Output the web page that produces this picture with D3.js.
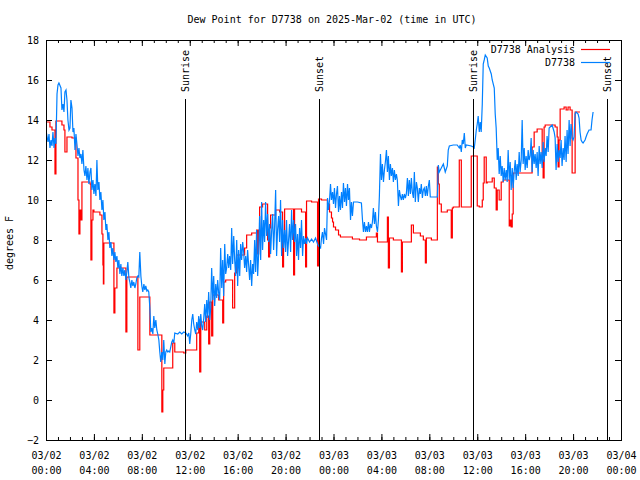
<!DOCTYPE html>
<html><head><meta charset="utf-8">
<script src="https://cdn.jsdelivr.net/npm/d3@7"></script>
<style>
body{margin:0;background:#fff}
text{font-family:"DejaVu Sans Mono","Liberation Mono",monospace;font-size:10px;fill:#000}
</style>
</head><body><svg id="c" width="640" height="480"></svg>
<script>
const titleText = "Dew Point for D7738 on 2025-Mar-02 (time in UTC)";
const yLabel = "degrees F";
const yTicks = [-2,0,2,4,6,8,10,12,14,16,18];
const xTickHours = [0,4,8,12,16,20,24,28,32,36,40,44,48];
const seriesNames = ["D7738 Analysis","D7738"];
const seriesColors = ["#ff0000","#0080ff"];
const sunEvents = [["Sunrise",11.6],["Sunset",22.8],["Sunrise",35.63],["Sunset",46.83]];

// [hours since 2025-03-02 00:00 UTC, dew point F]
const analysis = [[0,13.9],[0.33,13.65],[0.5,13.5],[0.75,11.3],[0.83,13.95],[1.33,13.75],[1.5,13.5],[1.58,12.4],[1.75,13.15],[2.17,13.1],[2.5,12.1],[2.67,10.0],[2.75,8.3],[2.83,9.5],[2.92,9.0],[3.0,10.9],[3.67,10.8],[3.75,7.0],[3.83,9.0],[3.92,9.5],[4.0,9.4],[4.5,9.25],[4.67,8.3],[4.75,6.75],[4.79,5.8],[4.83,7.85],[5.67,4.35],[5.75,5.6],[5.92,6.6],[6.67,3.4],[6.75,6.15],[7.67,2.5],[7.83,5.15],[8.67,3.25],[9.67,-0.6],[9.75,0.5],[9.83,1.6],[10.58,2.85],[10.75,2.4],[11.5,2.35],[11.67,2.5],[12.58,3.35],[12.75,4.0],[12.83,1.4],[12.92,3.9],[13.25,3.5],[13.42,4.2],[13.58,2.8],[13.67,4.9],[13.83,3.2],[13.92,5.25],[14.42,5.0],[14.75,3.85],[14.83,5.9],[15.0,6.0],[15.58,4.6],[15.75,6.35],[15.92,7.25],[16.58,7.6],[16.75,8.25],[17.17,8.35],[17.58,8.5],[17.67,7.3],[17.75,8.5],[17.83,9.65],[18.08,9.8],[18.5,8.0],[18.58,7.15],[18.67,8.6],[18.75,9.25],[19.17,9.5],[19.5,9.4],[19.75,6.65],[19.83,8.0],[19.92,9.55],[20.67,6.25],[20.75,9.55],[21.33,9.4],[21.67,6.65],[21.75,9.95],[22.17,9.9],[22.67,6.7],[22.75,10.05],[23.0,10.0],[23.5,9.8],[23.67,9.4],[23.83,9.1],[23.92,8.9],[24.0,8.65],[24.17,8.5],[24.42,8.25],[24.58,8.15],[25.58,8.05],[26.17,8.0],[26.75,8.15],[27.58,8.35],[27.67,7.9],[28.5,9.15],[28.58,6.6],[28.67,8.1],[29.0,8.0],[29.67,6.4],[29.75,7.9],[30.5,8.75],[30.67,8.35],[31.25,8.2],[31.5,8.0],[31.67,6.85],[31.75,8.1],[32.17,8.0],[32.67,11.65],[32.75,10.8],[32.83,9.8],[33.0,9.4],[33.5,9.5],[33.83,8.1],[33.92,9.6],[34.0,9.65],[34.5,12.0],[34.67,9.65],[35.5,12.2],[36.0,9.7],[36.17,9.65],[36.42,10.0],[36.5,10.85],[36.58,12.15],[36.75,10.85],[36.83,10.9],[37.25,11.1],[37.42,10.6],[37.58,9.5],[37.67,10.5],[37.83,10.0],[38.0,10.9],[38.17,11.0],[38.67,8.7],[38.75,9.0],[38.83,8.65],[38.92,9.3],[39.0,11.35],[40.58,12.65],[40.75,13.4],[41.0,13.55],[41.42,12.0],[41.5,11.1],[41.58,13.65],[41.67,13.75],[42.5,13.65],[42.67,13.15],[42.75,11.65],[42.83,13.0],[42.92,14.55],[43.25,14.65],[43.42,14.5],[43.58,14.65],[43.75,14.5],[43.92,11.35],[44.17,14.4],[44.58,14.4]];

const observed = [[0,13.5],[0.08,13.2],[0.17,12.9],[0.25,13.3],[0.33,12.6],[0.42,13.0],[0.5,12.7],[0.58,13.4],[0.67,12.6],[0.75,13.1],[0.83,12.8],[0.92,15.3],[1.0,15.75],[1.08,15.85],[1.25,15.6],[1.33,14.5],[1.42,14.8],[1.5,14.4],[1.58,15.4],[1.67,15.5],[1.75,15.0],[1.83,14.0],[1.92,13.5],[2.0,13.6],[2.08,15.0],[2.17,14.6],[2.25,13.4],[2.33,13.6],[2.42,12.5],[2.5,13.3],[2.58,12.8],[2.67,12.2],[2.75,12.6],[2.83,12.1],[2.92,12.3],[3.0,11.8],[3.08,12.5],[3.17,11.5],[3.25,11.2],[3.33,11.7],[3.42,11.0],[3.5,11.6],[3.58,10.8],[3.67,11.4],[3.75,11.6],[3.83,10.5],[3.92,11.0],[4.0,10.3],[4.08,10.8],[4.17,10.2],[4.25,12.0],[4.33,10.5],[4.42,10.9],[4.5,10.0],[4.58,10.4],[4.67,9.5],[4.75,10.0],[4.83,9.0],[4.92,9.4],[5.0,8.5],[5.08,8.8],[5.17,8.0],[5.25,8.4],[5.33,7.6],[5.42,7.9],[5.5,7.2],[5.58,7.6],[5.67,7.0],[5.75,7.4],[5.83,6.9],[5.92,7.2],[6.0,6.6],[6.08,7.0],[6.17,6.3],[6.25,6.8],[6.33,6.2],[6.42,6.6],[6.5,6.2],[6.58,6.5],[6.67,6.0],[6.75,6.4],[6.83,6.9],[6.92,6.1],[7.0,5.9],[7.08,5.6],[7.17,6.0],[7.25,5.7],[7.33,5.9],[7.42,5.6],[7.5,5.8],[7.58,6.1],[7.67,6.2],[7.75,6.15],[7.83,7.4],[7.92,6.2],[8.0,5.7],[8.08,5.4],[8.17,5.8],[8.25,5.5],[8.33,5.7],[8.42,5.45],[8.5,5.5],[8.58,5.4],[8.67,4.6],[8.75,3.4],[8.83,3.6],[8.92,3.3],[9.0,4.2],[9.08,3.6],[9.17,4.0],[9.25,3.5],[9.33,3.3],[9.42,3.0],[9.5,2.4],[9.58,1.9],[9.67,2.4],[9.75,2.0],[9.83,3.0],[9.92,1.8],[10.0,2.4],[10.08,2.5],[10.17,2.4],[10.25,2.45],[10.33,2.4],[10.5,2.9],[10.58,3.0],[10.67,2.85],[10.75,3.35],[11.0,3.3],[11.17,3.4],[11.33,3.3],[11.5,3.4],[11.67,3.35],[11.83,3.2],[11.92,3.35],[12.0,2.8],[12.08,3.3],[12.17,4.0],[12.25,4.3],[12.33,3.8],[12.42,3.5],[12.5,3.3],[12.58,3.9],[12.67,3.5],[12.75,4.2],[12.83,3.6],[12.92,4.3],[13.0,3.7],[13.08,3.5],[13.17,4.1],[13.25,4.8],[13.33,3.9],[13.42,5.0],[13.5,4.1],[13.58,5.4],[13.67,4.0],[13.75,4.6],[13.83,6.6],[13.92,5.0],[14.0,6.2],[14.08,4.7],[14.17,5.8],[14.25,5.1],[14.33,6.0],[14.42,5.3],[14.5,5.0],[14.58,7.6],[14.67,5.6],[14.75,7.0],[14.83,5.2],[14.92,7.8],[15.0,6.3],[15.08,6.6],[15.17,7.3],[15.25,6.6],[15.33,7.2],[15.42,6.5],[15.5,8.6],[15.58,6.8],[15.67,8.2],[15.75,7.0],[15.83,6.2],[15.92,8.0],[16.0,5.7],[16.08,7.5],[16.17,6.2],[16.25,7.8],[16.33,7.0],[16.42,7.9],[16.5,7.4],[16.58,6.6],[16.67,7.2],[16.75,6.4],[16.83,7.5],[16.92,6.7],[17.0,6.0],[17.08,7.0],[17.17,5.7],[17.25,6.8],[17.33,6.3],[17.42,8.0],[17.5,6.4],[17.58,8.5],[17.67,6.2],[17.75,7.3],[17.83,9.2],[17.92,7.0],[18.0,9.9],[18.08,7.5],[18.17,9.0],[18.25,7.9],[18.33,9.9],[18.42,8.2],[18.5,9.3],[18.58,7.9],[18.67,8.8],[18.75,7.3],[18.83,8.4],[18.92,9.3],[19.0,7.5],[19.08,8.6],[19.17,10.5],[19.25,7.2],[19.33,8.5],[19.42,9.2],[19.5,7.9],[19.58,10.0],[19.67,7.2],[19.75,9.0],[19.83,7.6],[19.92,8.5],[20.0,7.4],[20.08,9.0],[20.17,7.2],[20.25,8.0],[20.33,8.8],[20.42,7.4],[20.5,9.5],[20.58,8.0],[20.67,9.0],[20.75,7.9],[20.83,8.8],[20.92,7.2],[21.0,8.3],[21.08,7.0],[21.17,8.6],[21.25,7.6],[21.33,9.0],[21.42,7.2],[21.5,8.2],[21.58,7.8],[21.67,8.1],[21.75,7.8],[21.83,8.1],[22.0,7.9],[22.17,8.05],[22.33,7.9],[22.5,8.1],[22.67,7.8],[22.75,7.7],[22.92,7.6],[23.0,8.1],[23.08,8.4],[23.17,7.8],[23.25,8.6],[23.42,8.0],[23.5,10.1],[23.58,9.5],[23.67,10.0],[23.75,10.8],[23.83,10.0],[23.92,10.4],[24.0,9.8],[24.08,10.6],[24.17,9.6],[24.25,10.3],[24.33,10.7],[24.42,9.4],[24.5,10.2],[24.58,9.5],[24.67,10.4],[24.75,9.6],[24.83,10.85],[24.92,9.9],[25.0,10.6],[25.08,9.7],[25.17,10.8],[25.25,10.0],[25.33,10.6],[25.42,9.0],[25.5,9.9],[25.58,9.2],[25.67,9.9],[26.0,9.9],[26.33,9.85],[26.42,9.0],[26.5,8.4],[26.58,8.9],[26.67,8.4],[26.75,8.7],[26.83,8.4],[26.92,8.9],[27.0,8.4],[27.08,8.8],[27.17,8.6],[27.25,8.9],[27.33,9.6],[27.42,8.8],[27.5,9.4],[27.58,8.7],[27.67,8.4],[27.75,9.0],[27.83,10.2],[27.92,12.3],[28.0,11.0],[28.08,11.8],[28.17,10.9],[28.25,11.5],[28.33,11.9],[28.42,12.5],[28.5,11.4],[28.58,12.2],[28.67,11.0],[28.75,11.8],[28.83,11.2],[28.92,11.6],[29.0,10.9],[29.08,11.5],[29.17,11.0],[29.25,11.3],[29.33,11.0],[29.42,9.7],[29.5,10.5],[29.58,10.2],[29.67,10.0],[29.75,10.3],[29.83,10.0],[29.92,10.3],[30.0,10.1],[30.08,10.3],[30.17,11.1],[30.25,10.2],[30.33,11.0],[30.42,10.3],[30.5,11.1],[30.58,10.4],[30.67,10.1],[30.75,11.4],[30.83,9.9],[30.92,10.9],[31.0,10.6],[31.08,9.9],[31.17,10.6],[31.25,10.3],[31.33,10.8],[31.42,10.1],[31.5,10.5],[31.58,10.6],[31.67,10.2],[31.75,10.7],[31.83,10.2],[31.92,10.7],[32.0,11.0],[32.08,10.15],[32.67,10.15],[32.75,11.75],[32.83,11.4],[33.0,11.6],[33.17,11.8],[33.33,11.4],[33.5,11.7],[33.58,12.5],[33.67,12.7],[34.0,12.75],[34.33,12.75],[34.5,12.6],[34.58,12.75],[34.67,12.4],[34.75,13.0],[34.83,12.8],[34.92,13.35],[35.0,12.6],[35.08,12.75],[35.5,12.7],[35.67,12.65],[35.75,12.6],[35.83,13.0],[35.92,13.5],[36.0,13.8],[36.08,14.2],[36.17,13.4],[36.25,13.9],[36.33,13.4],[36.42,14.8],[36.5,16.8],[36.58,17.0],[36.67,17.25],[36.83,17.1],[36.92,16.7],[37.0,16.6],[37.17,16.3],[37.25,16.0],[37.42,15.6],[37.5,14.3],[37.58,13.6],[37.67,12.0],[37.75,12.6],[37.83,11.3],[37.92,12.2],[38.0,11.2],[38.08,11.7],[38.17,10.9],[38.25,11.6],[38.33,11.0],[38.42,11.5],[38.5,10.9],[38.58,12.5],[38.67,11.0],[38.75,11.9],[38.83,10.5],[38.92,11.6],[39.0,10.6],[39.08,11.4],[39.17,12.0],[39.25,11.0],[39.33,11.8],[39.42,11.2],[39.5,12.4],[39.58,11.4],[39.67,12.0],[39.75,14.0],[39.83,11.8],[39.92,12.6],[40.0,11.5],[40.08,12.2],[40.17,11.6],[40.25,12.5],[40.33,12.0],[40.42,12.2],[40.5,13.1],[40.58,11.4],[40.67,12.5],[40.75,11.8],[40.83,12.3],[40.92,11.6],[41.0,12.4],[41.08,11.2],[41.17,12.7],[41.25,11.8],[41.33,12.4],[41.42,11.6],[41.5,12.9],[41.58,11.9],[41.67,12.6],[41.75,12.2],[41.83,13.2],[41.92,12.4],[42.0,13.6],[42.25,13.75],[42.42,13.4],[42.5,13.1],[42.58,11.5],[42.67,12.8],[42.75,11.9],[42.83,12.5],[42.92,12.1],[43.0,13.0],[43.08,11.7],[43.17,12.6],[43.25,12.0],[43.33,13.2],[43.42,11.9],[43.5,13.5],[43.58,12.3],[43.67,14.0],[43.75,12.7],[43.83,13.8],[43.92,13.1],[44.0,13.0],[44.08,13.15],[44.17,14.3],[44.25,14.4],[44.42,14.3],[44.5,14.1],[44.58,13.4],[44.67,13.0],[44.75,12.9],[44.83,12.85],[45.0,13.0],[45.08,13.15],[45.17,13.3],[45.33,13.5],[45.5,13.5],[45.58,14.0],[45.67,14.4]];

const M = {l:46, r:621, t:40, b:440};
const t0 = Date.UTC(2025,2,2);
const toDate = h => new Date(t0 + h*3600e3);
const x = d3.scaleUtc().domain([toDate(0), toDate(48)]).range([M.l, M.r]);
const y = d3.scaleLinear().domain([-2,18]).range([M.b, M.t]);
const svg = d3.select("#c");

// title
svg.append("text").attr("x",332).attr("y",23).attr("text-anchor","middle").text(titleText);
// y label
svg.append("text").attr("transform","translate(12.5,243) rotate(-90)").attr("text-anchor","middle").text(yLabel);

// data lines (clipped to plot)
svg.append("clipPath").attr("id","clip").append("rect").attr("x",M.l).attr("y",M.t).attr("width",M.r-M.l).attr("height",M.b-M.t);
const gData = svg.append("g").attr("clip-path","url(#clip)");
const lineStep = d3.line().x(d=>x(toDate(d[0]))).y(d=>y(d[1])).curve(d3.curveStepAfter);
const lineLin = d3.line().x(d=>x(toDate(d[0]))).y(d=>y(d[1]));
gData.append("path").attr("d",lineStep(analysis)).attr("fill","none").attr("stroke",seriesColors[0]).attr("stroke-width",1.2);
gData.append("path").attr("d",lineLin(observed)).attr("fill","none").attr("stroke",seriesColors[1]).attr("stroke-width",1.2);

// sunrise / sunset markers
sunEvents.forEach(([lab,h])=>{
  const px = Math.round(x(toDate(h)))+0.5;
  svg.append("line").attr("x1",px).attr("x2",px).attr("y1",M.b).attr("y2",99).attr("stroke","#000").attr("stroke-width",1);
  svg.append("text").attr("transform",`translate(${px+3.5},92) rotate(-90)`).attr("text-anchor","start").text(lab);
});

// axes
const major = xTickHours.map(toDate);
const minor = d3.range(0,49).map(toDate);
const gxMinB = svg.append("g").attr("transform",`translate(0,${M.b})`).call(d3.axisBottom(x).tickValues(minor).tickSizeInner(-3).tickSizeOuter(0).tickFormat(""));
gxMinB.select(".domain").remove();
const gxMinT = svg.append("g").attr("transform",`translate(0,${M.t})`).call(d3.axisTop(x).tickValues(minor).tickSizeInner(-3).tickSizeOuter(0).tickFormat(""));
gxMinT.select(".domain").remove();
const gxT = svg.append("g").attr("transform",`translate(0,${M.t})`).call(d3.axisTop(x).tickValues(major).tickSizeInner(-6).tickSizeOuter(0).tickFormat(""));
gxT.select(".domain").remove();
const gx = svg.append("g").attr("transform",`translate(0,${M.b})`)
  .call(d3.axisBottom(x).tickValues(major).tickSizeInner(-6).tickSizeOuter(0).tickPadding(0).tickFormat(d3.utcFormat("%m/%d")));
gx.select(".domain").remove();
gx.selectAll(".tick text").attr("y",19).attr("dy",null).each(function(d){
  d3.select(this).append("tspan").attr("x",0).attr("dy",15).text(d3.utcFormat("%H:%M")(d));
});
const gy = svg.append("g").attr("transform",`translate(${M.l},0)`).call(d3.axisLeft(y).tickValues(yTicks).tickSizeInner(-6).tickSizeOuter(0).tickPadding(7));
gy.select(".domain").remove();
const gyR = svg.append("g").attr("transform",`translate(${M.r},0)`).call(d3.axisRight(y).tickValues(yTicks).tickSizeInner(-6).tickSizeOuter(0).tickFormat(""));
gyR.select(".domain").remove();
svg.selectAll(".tick text").attr("font-family",null).attr("font-size",null);

// frame
svg.append("rect").attr("x",M.l+0.5).attr("y",M.t+0.5).attr("width",M.r-M.l).attr("height",M.b-M.t).attr("fill","none").attr("stroke","#000");

// legend
seriesNames.forEach((n,i)=>{
  const ly = 49.5 + i*13;
  svg.append("text").attr("x",575).attr("y",ly+3.5).attr("text-anchor","end").text(n);
  svg.append("line").attr("x1",581).attr("x2",610).attr("y1",ly).attr("y2",ly).attr("stroke",seriesColors[i]).attr("stroke-width",1.2);
});
</script>
</body></html>
